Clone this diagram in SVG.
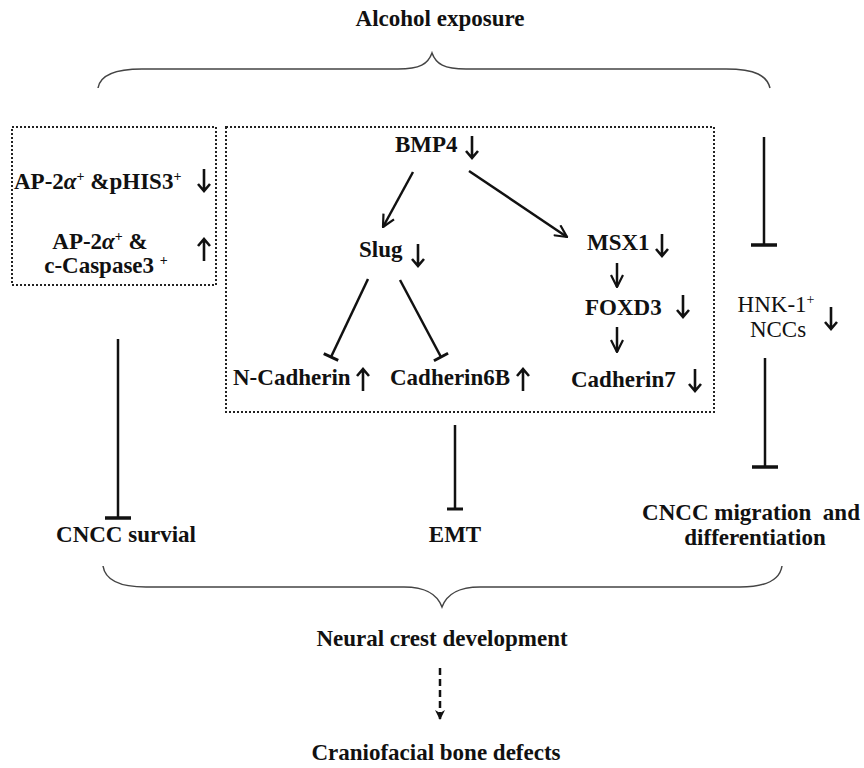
<svg xmlns="http://www.w3.org/2000/svg" width="864" height="768" viewBox="0 0 864 768">
<style>
text{font-family:"Liberation Serif","Times New Roman",serif;font-weight:bold;fill:#111;font-size:23px}
.c{text-anchor:middle}
.n{font-weight:normal}
.sup{font-size:14px}
.box{fill:none;stroke:#222;stroke-width:2;stroke-dasharray:2 2}
.ln{fill:none;stroke:#111;stroke-width:2.5}
.ar{fill:none;stroke:#111;stroke-width:2.6}
.brace{fill:none;stroke:#444;stroke-width:1.5}
</style>
<defs>
<path id="dn" class="ar" d="M0,-11 V11 M-6,4 L0,11 L6,4"/>
<path id="up" class="ar" d="M0,11 V-11 M-6,-4 L0,-11 L6,-4"/>
<marker id="arr" viewBox="0 0 14 14" refX="13" refY="7" markerWidth="14" markerHeight="14" markerUnits="userSpaceOnUse" orient="auto">
<path d="M1,1 L13,7 L1,13" fill="none" stroke="#111" stroke-width="2.2"/>
</marker>
<marker id="arrF" viewBox="0 0 12 12" refX="11" refY="6" markerWidth="12" markerHeight="12" markerUnits="userSpaceOnUse" orient="auto">
<path d="M1,1 L11,6 L1,11 L4,6 Z" fill="#111"/>
</marker>
<marker id="tee" viewBox="0 0 20 20" refX="10" refY="10" markerWidth="20" markerHeight="20" markerUnits="userSpaceOnUse" orient="auto">
<path d="M10,2 L10,18" stroke="#111" stroke-width="3"/>
</marker>
<marker id="teeL" viewBox="0 0 32 32" refX="16" refY="16" markerWidth="32" markerHeight="32" markerUnits="userSpaceOnUse" orient="auto">
<path d="M16,3 L16,29" stroke="#111" stroke-width="3.5"/>
</marker>
</defs>

<g id="title"><text class="c" x="440" y="26" font-size="20.5">Alcohol exposure</text></g>
<g id="brace-top"><path class="brace" d="M98,88 C100,76 112,69 142,69 L398,69 C420,69 428,64 432,53 C436,64 444,69 466,69 L726,69 C756,69 767,76 770,88"/></g>

<g id="survival-box">
<rect class="box" x="12" y="127" width="204" height="158"/>
<text x="14" y="189">AP-2<tspan font-style="italic">α</tspan><tspan class="sup" dy="-8">+</tspan><tspan dy="8"> &amp;pHIS3</tspan><tspan class="sup" dy="-8">+</tspan></text>
<use href="#dn" x="204" y="180"/>
<text class="c" x="100" y="249">AP-2<tspan font-style="italic">α</tspan><tspan class="sup" dy="-8">+</tspan><tspan dy="8"> &amp;</tspan></text>
<text class="c" x="106" y="273">c-Caspase3 <tspan class="sup" dy="-8">+</tspan></text>
<use href="#up" x="204" y="250"/>
</g>

<g id="emt-box"><rect class="box" x="226" y="127" width="488" height="285"/></g>
<g id="bmp4"><text x="395" y="152">BMP4</text><use href="#dn" x="472" y="147"/></g>
<g id="slug"><text x="359" y="257">Slug</text><use href="#dn" x="418" y="255"/></g>
<g id="ncad"><text x="233" y="385">N-Cadherin</text><use href="#up" x="363" y="380"/></g>
<g id="cad6b"><text x="390" y="385">Cadherin6B</text><use href="#up" x="523" y="380"/></g>
<g id="msx1"><text x="587" y="250">MSX1</text><use href="#dn" x="662" y="245"/></g>
<g id="foxd3"><text x="585" y="315">FOXD3</text><use href="#dn" x="683" y="306"/></g>
<g id="cad7"><text x="571" y="387">Cadherin7</text><use href="#dn" x="695" y="380"/></g>

<g id="hnk1">
<text class="c n" x="776" y="312" font-size="22">HNK-1<tspan class="sup" dy="-8">+</tspan></text>
<text class="c n" x="778" y="337" font-size="22">NCCs</text>
<use href="#dn" x="831" y="318"/>
</g>

<g id="cncc-survival"><text class="c" x="126" y="542" font-size="21.5">CNCC survial</text></g>
<g id="emt"><text class="c" x="455" y="542">EMT</text></g>
<g id="cncc-migration"><text class="c" x="751" y="520" font-size="20">CNCC migration&#160; and</text><text class="c" x="755" y="545" font-size="20.5">differentiation</text></g>

<g id="brace-bottom"><path class="brace" d="M103,566 C105,579 118,587 146,587 L404,587 C426,587 437,594 442,607 C447,594 458,587 480,587 L740,587 C768,587 780,579 782,566"/></g>
<g id="ncd"><text class="c" x="442" y="646" font-size="22">Neural crest development</text></g>
<g id="cbd"><text class="c" x="436" y="760" font-size="20.5">Craniofacial bone defects</text></g>

<g id="connectors">
<line class="ln" x1="413" y1="172" x2="383" y2="227" marker-end="url(#arr)"/>
<line class="ln" x1="469" y1="171" x2="567" y2="237" marker-end="url(#arr)"/>
<line class="ln" x1="368" y1="279" x2="331" y2="357" marker-end="url(#tee)"/>
<line class="ln" x1="400" y1="280" x2="441" y2="357" marker-end="url(#tee)"/>
<line class="ln" x1="617" y1="263" x2="617" y2="287" marker-end="url(#arr)"/>
<line class="ln" x1="617" y1="327" x2="617" y2="352" marker-end="url(#arr)"/>
<line class="ln" x1="764" y1="137" x2="764" y2="245" marker-end="url(#teeL)"/>
<line class="ln" x1="765" y1="358" x2="765" y2="467" marker-end="url(#teeL)"/>
<line class="ln" x1="118" y1="339" x2="118" y2="518" marker-end="url(#teeL)"/>
<line class="ln" x1="455" y1="425" x2="455" y2="509" marker-end="url(#tee)"/>
<line class="ln" x1="440" y1="668" x2="440" y2="720" stroke-dasharray="7 4" marker-end="url(#arrF)"/>
</g>
</svg>
